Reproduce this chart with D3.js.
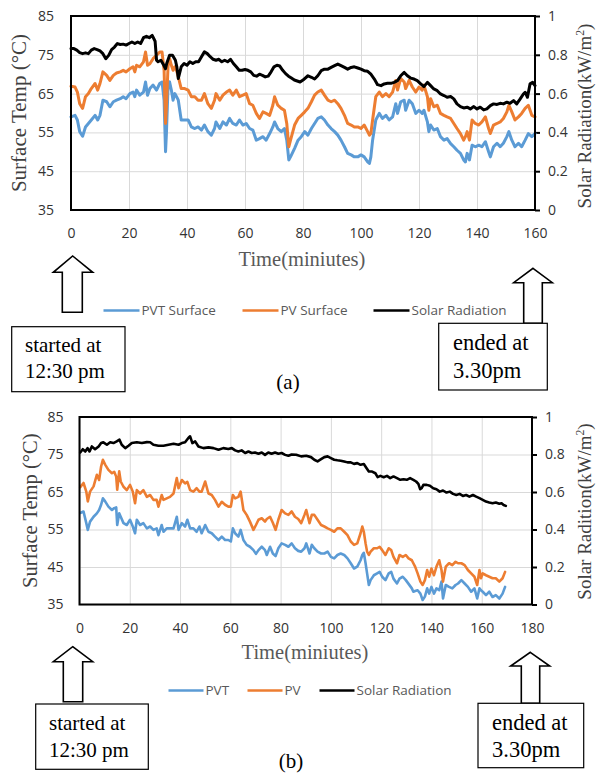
<!DOCTYPE html>
<html><head><meta charset="utf-8">
<script src="https://cdnjs.cloudflare.com/ajax/libs/d3/7.8.5/d3.min.js"></script>
<style>body{margin:0;background:#fff}svg{display:block}</style>
</head><body><script>
// ---------- DATA ----------
const tempTicks = [35,45,55,65,75,85];
const solarTicks = [0,0.2,0.4,0.6,0.8,1];
const xTicksA = [0,20,40,60,80,100,120,140,160];
const xTicksB = [0,20,40,60,80,100,120,140,160,180];
const legendA = ["PVT Surface","PV Surface","Solar Radiation"];
const legendB = ["PVT","PV","Solar Radiation"];

// Panel (a)
const timeA = [0,1.4,2.2,3,4,5,6,7,8.3,9.2,10,11,12.3,13.4,14.6,15.7,17,18,19,20.3,21.4,22,22.6,23.7,25,25.7,26.4,27.2,28.3,29.5,30.6,31.4,32.1,32.6,32.9,33.5,34,34.6,35.2,35.8,36.4,37,38,39.2,40.4,41.5,42.7,43.8,45,46,47.2,48.4,49.5,50,51.3,52.4,53.6,54.7,55.8,57,58.1,59.3,60.4,61.6,62.7,63.9,65,66.2,67.3,68.5,69.6,70.2,71.3,72.5,73.6,74.4,75.1,75.7,77.1,78.3,79.4,80.6,81.7,82.9,84,85.1,86.3,87.4,88.6,89.7,90.9,92,93.1,94.3,95.4,96.6,97.7,98.9,100,101.1,102.3,102.9,103.4,104,105.1,106.3,107.4,108.6,109.7,110.9,112,112.6,113.7,114.9,115.4,116.6,117.7,118.9,120,121.1,121.7,122.9,123.4,124,125.1,126.3,127.4,128.6,129.7,130.9,132,133.1,134.3,135.4,136,136.6,137.4,138.3,139.4,140.6,141.7,142.9,144,144.6,145.7,146.9,148,149.1,150.3,151,152,153.1,154.3,155.4,156.6,157.7,158.9,160];
const pvtA = [59.0,59.4,58.2,55.2,54.0,56.4,57.3,58.2,59.4,58.2,59.4,63.3,62.9,61.6,62.9,63.3,63.7,64.2,63.7,65.0,65.4,64.2,65.9,64.6,65.4,68.0,64.6,66.3,67.2,65.9,67.6,68.0,63.3,50.0,54.7,67.6,68.0,65.9,63.3,65.0,64.2,63.3,58.2,58.2,58.2,56.4,56.0,56.4,55.6,56.9,55.2,54.3,56.0,57.7,56.0,57.7,56.9,58.6,57.3,56.9,58.2,56.9,57.3,56.0,55.6,53.0,53.4,53.9,53.0,54.7,56.4,57.7,56.0,55.2,56.0,53.0,47.9,48.7,50.9,53.0,53.9,55.2,54.3,56.0,57.3,58.6,59.0,58.2,56.9,56.0,55.2,54.3,53.0,51.3,49.6,49.2,48.7,48.7,49.2,48.7,47.4,47.0,48.7,53.0,58.2,59.9,58.6,59.4,58.2,59.0,62.4,59.9,62.9,63.3,60.7,63.3,62.4,59.9,60.7,59.9,60.7,57.7,55.2,56.9,55.6,56.0,53.9,53.0,53.4,52.1,51.3,50.4,49.6,47.9,47.4,49.6,47.9,51.7,51.3,51.7,51.3,52.6,50.0,48.7,51.3,52.2,51.3,52.2,53.9,55.2,53.0,51.3,52.2,51.3,53.0,54.7,53.9,54.7];
const pvA = [66.9,66.7,65.4,62.4,61.2,64.2,65.0,66.3,67.6,65.9,67.6,70.6,69.7,68.4,69.7,70.3,70.6,71.0,70.6,71.4,71.9,70.6,72.3,71.9,73.2,75.7,72.3,72.7,74.0,74.9,75.7,75.7,71.0,57.3,61.6,72.7,74.0,72.3,71.0,71.9,71.0,69.3,66.3,66.3,65.9,64.2,64.2,63.3,63.3,65.0,62.4,61.2,63.3,65.0,63.3,64.6,65.4,65.9,64.6,65.9,64.2,64.6,65.0,62.4,62.0,59.9,58.6,60.3,59.9,59.4,62.0,64.2,62.0,61.2,60.7,57.3,51.3,53.0,56.9,58.6,59.4,60.3,61.2,62.9,64.6,65.4,65.9,64.6,63.3,62.9,63.3,62.4,61.2,59.4,57.3,56.9,56.4,56.4,56.0,56.9,55.2,54.3,54.7,58.2,64.2,65.4,64.2,65.0,64.2,65.4,68.4,65.9,68.9,68.0,66.3,68.4,66.7,65.4,66.7,65.9,67.2,64.2,60.7,63.7,61.6,62.0,59.9,59.4,59.0,58.6,57.3,56.0,54.7,53.0,53.9,55.2,53.0,58.2,57.3,56.9,57.7,59.0,56.0,54.7,56.9,57.3,57.7,58.6,60.3,62.0,60.3,58.2,59.0,59.9,61.2,62.0,59.4,59.0];
const solarTimeA = [0,1,2,3,4,5,6,7,8,9,10,11,12,13,14,15,16,17,18,19,20,21,22,23,24,25,26,27,28,29,29.5,30,31,32,32.6,33,34,35,36,36.5,37,38,39,40,41,42,43,44,45,46,47,48,49,50,51,52,53,54,55,56,57,58,59,60,61,62,63,64,65,66,67,68,69,70,71,72,73,74,75,76,77,78,79,80,81.7,82.9,84,85.1,86.3,87.4,88.6,89.7,90.9,92,93.1,94.3,95.4,96.6,97.7,98.9,100,101.1,102.3,103.4,104.6,105.7,106.9,108,109.1,110.3,111.4,112.6,113.7,114.9,116,117.1,118.3,119.4,120.6,121.7,122.9,124,125.1,126.3,127.4,128.6,129.7,130.9,132,133.1,134.3,135.4,136.6,137.7,138.9,140,141.1,142.3,143.4,144.6,145.7,146.9,148,149.1,150.3,151.4,152.6,153.7,154.9,156,156.6,157.4,158.3,159.2,160];
const solarA = [0.832,0.832,0.824,0.811,0.806,0.81,0.806,0.824,0.832,0.827,0.82,0.806,0.78,0.797,0.827,0.84,0.858,0.853,0.855,0.85,0.858,0.866,0.858,0.866,0.858,0.888,0.895,0.888,0.9,0.87,0.772,0.764,0.772,0.746,0.728,0.755,0.798,0.798,0.772,0.738,0.678,0.738,0.755,0.746,0.764,0.755,0.764,0.764,0.79,0.815,0.806,0.79,0.777,0.772,0.777,0.764,0.772,0.764,0.777,0.755,0.738,0.72,0.72,0.724,0.72,0.712,0.694,0.69,0.7,0.694,0.686,0.69,0.712,0.738,0.746,0.742,0.72,0.703,0.69,0.68,0.67,0.665,0.66,0.67,0.692,0.684,0.675,0.692,0.718,0.726,0.726,0.735,0.744,0.752,0.744,0.735,0.726,0.735,0.738,0.732,0.726,0.718,0.715,0.70,0.675,0.646,0.641,0.65,0.653,0.653,0.658,0.667,0.692,0.709,0.692,0.68,0.675,0.667,0.65,0.636,0.658,0.641,0.624,0.615,0.598,0.59,0.581,0.585,0.573,0.547,0.533,0.526,0.53,0.521,0.533,0.521,0.53,0.516,0.521,0.538,0.547,0.544,0.55,0.547,0.556,0.55,0.564,0.547,0.573,0.598,0.607,0.581,0.65,0.658,0.641];

// Panel (b)
const timeB = [0.3,1.6,2.7,3.3,4.2,5.6,6.9,7.8,8.6,9.3,10.2,11.5,12.9,13.8,14.6,15,15.8,16.4,17.5,18.8,20.1,21.2,22.1,22.8,24.1,25.4,26.8,28.1,29.4,30.7,31.4,32.7,33.4,34.7,36,37.4,38.7,39.4,40.7,42,42.9,44,45.3,46.6,47.7,48.6,50,51.3,52.6,53.9,55.3,56.6,57.9,59.2,60.2,61,61.9,63.2,64.1,65.2,66.5,67.8,69.2,70.2,71.2,72.5,73.8,74.5,75.8,76.9,78,79.1,80.4,81.8,83.1,84.4,85.7,87,88.2,89.5,90.2,91.5,92.4,93.4,94.7,96.1,97.4,98.7,100,101.3,102.6,103.9,105.3,106.6,107.9,109.2,110.5,111.8,112.5,113.1,113.8,114.4,115.1,115.8,117.1,118.4,119.4,120.4,121.7,123,124,124.9,126.3,127.3,128.6,129.8,130.9,132.2,132.8,133.5,134.5,135.6,136.5,137.4,138.3,139.1,140,141,142,143.1,144,144.6,145.7,147,148.3,149.6,150.6,151.9,153.2,154.5,155.8,157.1,158.2,159.1,159.7,160.4,161.7,163,164.3,165.6,167,168.3,169.3];
const pvtB = [59.4,59.8,56.7,54.9,57.1,58.4,59.3,60.2,61.6,63.3,62.5,61.1,60.2,60.7,60.9,56.2,59.3,58.4,56.7,56.2,57.6,55.8,54.0,57.6,56.2,56.7,55.3,55.8,54.9,55.3,53.5,56.2,54.4,55.3,55.3,55.3,58.4,54.9,56.7,55.8,57.6,55.3,55.3,54.4,55.8,54.0,56.2,54.4,54.0,53.1,52.2,53.1,52.2,52.2,51.8,55.3,54.0,53.1,54.9,52.2,50.9,50.4,49.5,48.5,49.5,50.4,49.5,48.2,50.4,48.6,47.9,50.0,51.3,50.9,50.4,51.3,50.0,49.3,49.1,50.0,51.3,48.6,50.9,50.0,49.1,48.6,48.6,49.1,47.7,47.3,48.2,48.6,48.2,47.3,46.0,44.6,45.1,46.8,48.2,48.8,46.0,43.3,40.2,41.5,42.8,43.3,43.7,42.4,41.5,43.3,43.7,41.9,40.6,41.9,42.4,41.5,40.5,39.3,38.4,38.6,38.8,37.9,36.2,37.1,39.3,37.9,39.7,37.9,39.3,38.8,41.1,36.6,40.2,39.7,39.3,40.2,40.6,41.5,40.6,39.7,38.4,39.3,36.6,39.3,38.8,38.4,37.5,38.4,37.0,37.5,36.6,37.9,39.7];
const pvB = [66.3,67.4,65.1,62.5,65.1,66.5,69.6,68.2,71.8,73.6,72.3,70.9,70.0,70.4,69.1,65.6,70.5,67.8,66.4,65.5,66.9,65.1,62.0,65.5,64.6,65.5,63.7,64.2,62.9,62.9,61.1,64.2,62.9,63.3,63.7,64.6,68.7,66.0,68.2,67.3,67.7,65.5,65.1,66.0,65.1,65.1,67.8,64.6,64.2,62.9,61.1,62.4,61.6,61.1,61.1,64.2,63.3,63.7,65.1,60.2,58.9,57.1,54.9,56.2,57.6,58.0,57.1,57.8,58.4,56.8,54.9,57.6,60.2,59.3,58.9,59.8,58.4,57.8,56.7,58.9,60.2,56.7,58.9,58.9,57.6,56.2,55.8,55.3,54.9,54.4,55.3,55.3,54.4,53.5,51.8,50.9,51.3,54.0,55.8,54.4,51.3,49.1,48.2,49.1,50.0,50.0,50.4,49.5,48.2,50.0,49.5,47.7,46.0,48.2,47.7,48.2,47.3,46.8,46.0,45.1,43.3,41.1,40.2,41.5,44.2,42.4,44.6,42.8,45.1,46.8,44.2,41.1,45.1,46.0,45.5,46.4,46.0,46.0,45.5,44.2,43.3,42.4,40.2,44.2,42.0,43.3,42.8,42.4,42.0,42.0,41.1,42.0,43.7];
const solarTimeB = [0.3,1.3,2.3,3.2,4,4.9,6.2,7.6,8.6,9.5,10.9,12.2,13.5,14.8,15.9,16.8,18.2,19.5,20.8,22.8,24.8,26.8,28.1,29.4,31.4,33.4,35.4,37.4,39.4,40.7,42,43.3,44,44.9,46,47.3,49.3,51.3,53.3,55.3,57.2,59.2,60.6,61.9,63.2,64.5,65.9,67.2,68.5,69.8,71.2,72.5,73.8,75.1,76.4,77.8,79.1,80.4,81.8,83.1,84.4,86.2,88.2,90.2,92.1,93.4,94.7,96.1,97.4,98.7,100,101.3,102.6,103.9,105.3,106.6,107.9,109.2,110.5,111.8,113.1,114.2,115.1,116.4,117.7,118.6,119.7,121,122.3,123.6,124.9,126.3,127.6,128.9,130.2,131.5,132.8,133.9,134.8,135.5,136.1,136.8,138.1,139.4,140.7,142,143.3,144.6,146,147.3,148.6,149.9,151.2,152.5,153.8,155.1,156.5,157.8,159.1,160.4,161.7,163,164.3,165.6,167,167.9,168.7,169.6];
const solarB = [0.811,0.828,0.816,0.834,0.816,0.843,0.828,0.843,0.861,0.865,0.852,0.865,0.861,0.87,0.879,0.852,0.834,0.847,0.861,0.865,0.861,0.866,0.865,0.852,0.847,0.847,0.852,0.857,0.852,0.861,0.865,0.888,0.897,0.861,0.87,0.843,0.834,0.838,0.834,0.825,0.834,0.829,0.834,0.822,0.816,0.822,0.808,0.816,0.808,0.811,0.804,0.811,0.798,0.811,0.804,0.811,0.804,0.808,0.798,0.793,0.8,0.799,0.79,0.793,0.786,0.772,0.763,0.775,0.786,0.79,0.781,0.772,0.769,0.767,0.763,0.758,0.758,0.75,0.754,0.745,0.749,0.727,0.709,0.709,0.7,0.679,0.686,0.679,0.686,0.674,0.683,0.674,0.665,0.668,0.665,0.674,0.665,0.656,0.643,0.615,0.62,0.638,0.638,0.633,0.62,0.615,0.602,0.608,0.597,0.602,0.59,0.584,0.59,0.579,0.584,0.575,0.584,0.575,0.567,0.558,0.549,0.544,0.54,0.544,0.537,0.54,0.531,0.526];

// ---------- STYLE ----------
const COL_PVT = "#5B9BD5", COL_PV = "#ED7D31", COL_SOL = "#000000";
const SANS = "'Open Sans', 'Noto Sans', sans-serif";
const SERIF = "'Liberation Serif', 'Times New Roman', serif";

const svg = d3.select("body").append("svg").attr("width",598).attr("height",776);
svg.append("rect").attr("width",598).attr("height",776).attr("fill","#fff");

function zip(t,v){ return t.map((d,i)=>({t:d,v:v[i]})); }

function panel(p){
  const g = svg.append("g");
  const x = d3.scaleLinear().domain(p.xDomain).range([p.left,p.right]);
  const yT = d3.scaleLinear().domain([35,85]).range([p.bottom,p.top]);
  const yS = d3.scaleLinear().domain([0,1]).range([p.bottom,p.top]);
  const w = p.right-p.left, h = p.bottom-p.top;

  const ax = g.append("g").attr("transform",`translate(${p.left},0)`)
    .call(d3.axisLeft(yT).tickValues(tempTicks).tickSize(-w).tickPadding(p.leftPad).tickSizeOuter(0));
  ax.select(".domain").remove();
  ax.selectAll("line").attr("stroke","#d9d9d9").attr("stroke-width",1);
  ax.selectAll("text").attr("font-family",SANS).attr("font-size",14).attr("fill","#333");

  const bx = g.append("g").attr("transform",`translate(0,${p.bottom})`)
    .call(d3.axisBottom(x).tickValues(p.xTicks).tickSize(-h).tickPadding(p.bottomPad).tickSizeOuter(0));
  bx.select(".domain").remove();
  bx.selectAll("line").attr("stroke","#d9d9d9").attr("stroke-width",1);
  bx.selectAll("text").attr("font-family",SANS).attr("font-size",14).attr("fill","#333");

  const rx = g.append("g").attr("transform",`translate(${p.right},0)`)
    .call(d3.axisRight(yS).tickValues(solarTicks).tickSize(5).tickPadding(8).tickSizeOuter(0).tickFormat(d=>String(d)));
  rx.select(".domain").remove();
  rx.selectAll("line").attr("stroke","#000").attr("stroke-width",2);
  rx.selectAll("text").attr("font-family",SANS).attr("font-size",14).attr("fill","#333");

  const lineT = d3.line().x(d=>x(d.t)).y(d=>yT(d.v)).curve(d3.curveLinear);
  const lineS = d3.line().x(d=>x(d.t)).y(d=>yS(d.v)).curve(d3.curveLinear);
  const series = [
    {d:zip(p.time,p.pvt), gen:lineT, c:COL_PVT},
    {d:zip(p.time,p.pv), gen:lineT, c:COL_PV},
    {d:zip(p.solarTime,p.solar), gen:lineS, c:COL_SOL}
  ];
  g.selectAll("path.series").data(series).join("path").attr("class","series")
    .attr("d",s=>s.gen(s.d)).attr("fill","none").attr("stroke",s=>s.c)
    .attr("stroke-width",p.lw).attr("stroke-linejoin","round").attr("stroke-linecap","round");

  g.append("rect").attr("x",p.left).attr("y",p.top).attr("width",w).attr("height",h)
    .attr("fill","none").attr("stroke","#000").attr("stroke-width",2);

  // axis titles
  g.append("text").attr("transform",`translate(${p.lTitleX},${(p.top+p.bottom)/2}) rotate(-90)`)
    .attr("text-anchor","middle").attr("font-family",SERIF).attr("font-size",p.lTitleSize).attr("fill","#404040")
    .text("Surface Temp (°C)");
  const rt = g.append("text").attr("transform",`translate(${p.rTitleX},${p.rTitleY}) rotate(-90)`)
    .attr("text-anchor","middle").attr("font-family",SERIF).attr("font-size",p.rTitleSize).attr("fill","#404040");
  rt.append("tspan").text(p.rTitle);
  rt.append("tspan").attr("font-size",p.rTitleSize*0.62).attr("dy",-7).text("2");
  rt.append("tspan").attr("dy",7).text(")");
  g.append("text").attr("x",p.xTitleX).attr("y",p.xTitleY).attr("text-anchor","middle")
    .attr("font-family",SERIF).attr("font-size",20.5).attr("fill","#595959").text("Time(miniutes)");

  // legend
  const cols=[COL_PVT,COL_PV,COL_SOL];
  const lg = g.append("g");
  p.legend.forEach((name,i)=>{
    const it = p.legendPos[i];
    lg.append("line").attr("x1",it[0]).attr("x2",it[1]).attr("y1",p.legendY).attr("y2",p.legendY)
      .attr("stroke",cols[i]).attr("stroke-width",2.5);
    lg.append("text").attr("x",it[1]+2).attr("y",p.legendY).attr("dy","0.35em")
      .attr("font-family",SANS).attr("font-size",13.5).attr("fill","#595959").text(name);
  });
}

function arrow(tipX,tipY,baseY,headL,headR,shL,shR,bot){
  const pts=[[tipX,tipY],[headR,baseY],[shR,baseY],[shR,bot],[shL,bot],[shL,baseY],[headL,baseY]];
  svg.append("path").attr("d","M"+pts.map(p=>p.join(",")).join("L")+"Z")
    .attr("fill","#fff").attr("stroke","#000").attr("stroke-width",1.6).attr("stroke-linejoin","miter");
}
function box(x0,y0,x1,y1,lines,tx,b1,b2,fs){
  svg.append("rect").attr("x",x0).attr("y",y0).attr("width",x1-x0).attr("height",y1-y0)
    .attr("fill","#fff").attr("stroke","#000").attr("stroke-width",1.2);
  svg.append("text").attr("x",tx).attr("y",b1).attr("font-family",SERIF).attr("font-size",fs).attr("fill","#000").text(lines[0]);
  svg.append("text").attr("x",tx).attr("y",b2).attr("font-family",SERIF).attr("font-size",fs).attr("fill","#000").text(lines[1]);
}

panel({xDomain:[0,160], left:71, right:535, top:16, bottom:210, xTicks:xTicksA,
  leftPad:17, bottomPad:18, lw:3,
  time:timeA, pvt:pvtA, pv:pvA, solarTime:solarTimeA, solar:solarA,
  lTitleX:26, lTitleSize:21, rTitleX:591, rTitleY:116, rTitleSize:19, rTitle:"Solar Radiation(kW/m",
  xTitleX:302, xTitleY:266,
  legend:legendA, legendY:310.5, legendPos:[[103.5,139.5],[242.5,278.5],[373.5,409.5]]});

panel({xDomain:[0,180], left:79.5, right:532, top:417, bottom:604.5, xTicks:xTicksB,
  leftPad:16, bottomPad:18.5, lw:2.6,
  time:timeB, pvt:pvtB, pv:pvB, solarTime:solarTimeB, solar:solarB,
  lTitleX:37, lTitleSize:20.5, rTitleX:591, rTitleY:511.5, rTitleSize:19, rTitle:"Solar Radition(kW/m",
  xTitleX:305, xTitleY:659,
  legend:legendB, legendY:690.5, legendPos:[[168.5,203.5],[247.5,282.5],[319.5,354.5]]});

// annotations (a)
arrow(72.7,256,272.3,53.3,92.7,62.3,82.3,312.3);
box(11.7,326.7,125,391.7,["started at","12:30 pm"],25,351.7,378,21);
arrow(533,268.3,282.7,513.7,552.3,523.7,542.3,323.3);
box(438.7,323.3,547.3,390,["ended at","3.30pm"],453,350,378.3,22.5);
svg.append("text").attr("x",288).attr("y",389).attr("text-anchor","middle").attr("font-family",SERIF).attr("font-size",21).attr("fill","#000").text("(a)");

// annotations (b)
arrow(72.7,646.7,661.7,53.3,92.7,63.3,82.7,701.7);
box(35.7,704,148.3,769.3,["started at","12:30 pm"],49,730,756.7,21);
arrow(530.3,652.3,666,510.7,549.7,521.3,539.7,703.3);
box(478,703.3,583.7,767.7,["ended at","3.30pm"],492,730,757.3,22.5);
svg.append("text").attr("x",291).attr("y",768).attr("text-anchor","middle").attr("font-family",SERIF).attr("font-size",21).attr("fill","#000").text("(b)");
</script></body></html>
